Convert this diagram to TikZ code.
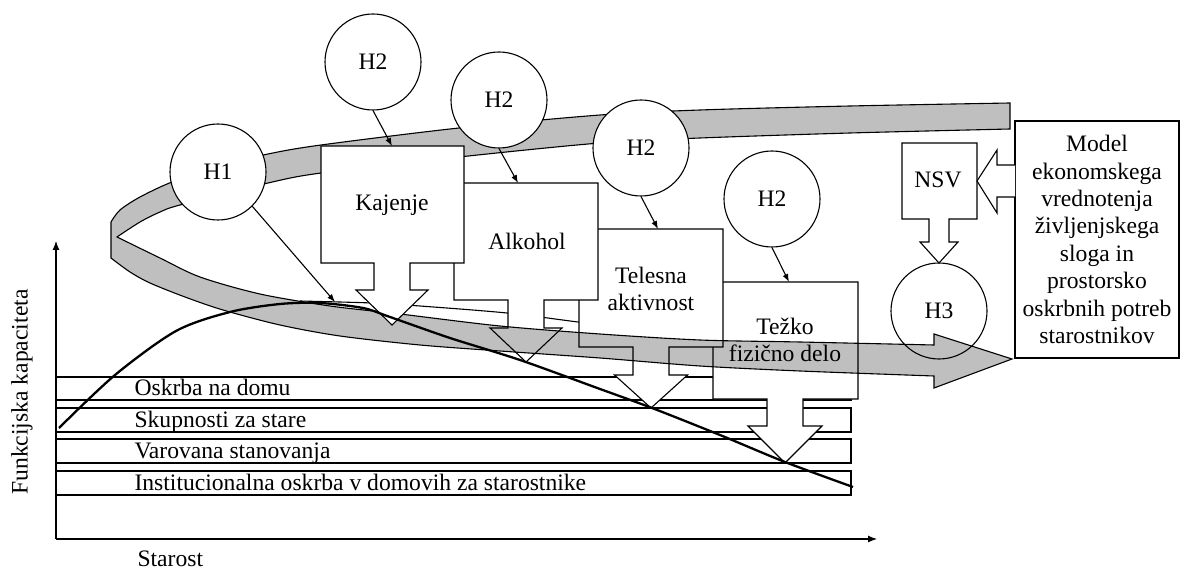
\documentclass[tikz,border=0pt]{standalone}
\usepackage{fontspec}
\setmainfont{Liberation Serif}
\usetikzlibrary{arrows.meta}
% #1 left, #2 right, #3 top, #4 bottom, #5 centre x, #6 shaft half width, #7 shaft bottom, #8 wing half width, #9 tip y
\newcommand{\mycallout}[9]{%
  \draw[cbox] (#1,#3) -- (#2,#3) -- (#2,#4) -- ({#5+#6},#4) -- ({#5+#6},#7) -- ({#5+#8},#7) -- (#5,#9)
    -- ({#5-#8},#7) -- ({#5-#6},#7) -- ({#5-#6},#4) -- (#1,#4) -- cycle;}
\begin{document}
\begin{tikzpicture}[x=1pt,y=-1pt,
  font=\fontsize{23.6}{27.4}\selectfont,
  line width=1.1pt,
  hc/.style={circle,draw,fill=white,minimum size=96pt,inner sep=0pt},
  cbox/.style={draw,fill=white},
  ptr/.style={-{Latex[length=8pt,width=6pt]}},
  axisline/.style={-{Latex[length=9pt,width=7pt]}},
  ribbon/.style={draw=black,fill=black,fill opacity=0.25},
  lbl/.style={inner sep=0pt,anchor=base west},
  txt/.style={inner sep=0pt,anchor=base},
  mtxt/.style={inner sep=0pt,align=center}]
\useasboundingbox (0,0) rectangle (1183,569);

% axes
\coordinate (O) at (56,539);
\coordinate (ytop) at (56,241);
\coordinate (xend) at (877,539);
\draw[axisline] (O) -- (ytop);
\draw[axisline] (O) -- (xend);

% care bars
\draw (56,377) rectangle (851,400);
\draw (56,408) rectangle (851,432);
\draw (56,439) rectangle (851,463);
\draw (56,471) rectangle (851,495);

% thin line
\draw plot[smooth] coordinates {(300,301) (372,303) (420,306) (507,313) (578,322) (600,324)};

% H3 (under the ribbon)
\node[hc] (h3) at (939,311) {H3};

% callouts under the ribbon
\mycallout{713}{858}{282}{399}{785}{18}{426}{37}{463}
\mycallout{579}{723}{229}{347}{651}{18}{375}{36.5}{408}
\mycallout{454}{598}{183}{300}{526}{18}{328}{36}{362}

% ribbon
\path[ribbon]
  plot[smooth] coordinates {(1010,103) (850,106) (700,110) (600,115) (459,128) (321,145) (268,154) (220,166) (172,182) (140,197) (120,210) (111,222)}
  -- plot[smooth] coordinates {(111,258) (130,272) (150,283) (185,297) (223,310) (280,325) (340,336) (420,345) (500,351) (600,358) (700,366) (800,371) (934,376)}
  -- (934,388) -- (1012,359) -- (934,334)
  -- plot[smooth] coordinates {(934,345) (800,342) (700,340) (600,334) (500,326) (400,314) (330,306) (260,294) (200,277) (160,258) (117,237)}
  -- plot[smooth] coordinates {(117,237) (140,222) (160,212) (180,205) (268,183) (321,173) (459,157) (600,143) (700,138) (850,133) (1010,129)}
  -- cycle;

% Kajenje callout (over the ribbon)
\mycallout{321}{464}{146}{263}{392}{18}{290}{36}{325}

% hypothesis circles
\node[hc] (h1) at (218,172) {H1};
\node[hc] (h2a) at (373,62) {H2};
\node[hc] (h2b) at (499,100) {H2};
\node[hc] (h2c) at (641,148) {H2};
\node[hc] (h2d) at (772,199) {H2};

\coordinate (t1) at (335,302);
\coordinate (t2a) at (392,146);
\coordinate (t2b) at (518,183);
\coordinate (t2c) at (658,229);
\coordinate (t2d) at (789,282);
\draw[ptr] (h1.south east) -- (t1);
\draw[ptr] (h2a.south) -- (t2a);
\draw[ptr] (h2b.south) -- (t2b);
\draw[ptr] (h2c.south) -- (t2c);
\draw[ptr] (h2d.south) -- (t2d);

% capacity curve
\draw[line width=2.3pt] plot[smooth] coordinates {(59,428) (115,375) (176,331) (230,312) (280,304) (320,303) (363,308) (390,317) (450,338) (520,360) (600,389) (652,408) (720,435) (785,462) (853,487)};

% NSV, model box and arrow
\mycallout{902}{977}{143}{219}{939}{10}{242}{19}{263}
\node[draw,fill=white,minimum width=164pt,minimum height=237pt,inner sep=0pt,align=center] (model) at (1097,239.5)
  {Model\\ekonomskega\\vrednotenja\\življenjskega\\sloga in\\prostorsko\\oskrbnih potreb\\starostnikov};
\draw[cbox] (1015,165) -- (997,165) -- (997,150) -- (977,181) -- (997,213) -- (997,197) -- (1015,197);

% texts
\node[txt] (kaj) at (392,211) {Kajenje};
\node[txt] (alk) at (527,250) {Alkohol};
\node[mtxt] (tel) at (651,289) {Telesna\\aktivnost};
\node[mtxt] (tez) at (785,340) {Težko\\fizično delo};
\node[txt] (nsv) at (938,188) {NSV};

\node[lbl] (b1) at (134,395) {Oskrba na domu};
\node[lbl] (b2) at (134,427) {Skupnosti za stare};
\node[lbl] (b3) at (134,458) {Varovana stanovanja};
\node[lbl] (b4) at (134,490) {Institucionalna oskrba v domovih za starostnike};

\node[rotate=90,inner sep=0pt] (ylab) at (22,392) {Funkcijska kapaciteta};
\node[lbl] (xlab) at (137,566) {Starost};
\end{tikzpicture}
\end{document}
